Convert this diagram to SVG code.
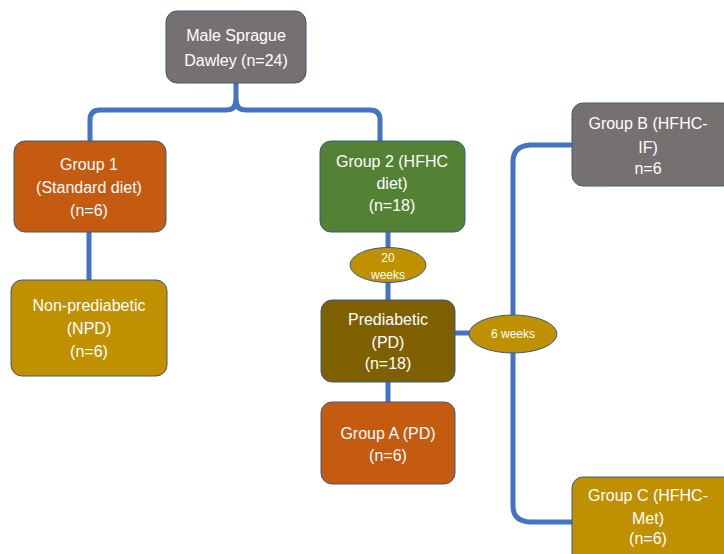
<svg xmlns="http://www.w3.org/2000/svg" width="724" height="554" viewBox="0 0 724 554">
<style>
.node{stroke:#3b5a85;stroke-width:1}
.t{fill:#ffffff;font-family:"Liberation Sans",Arial,sans-serif;font-size:16px;text-anchor:middle}
.s{fill:#ffffff;font-family:"Liberation Sans",Arial,sans-serif;font-size:12px;text-anchor:middle}
.conn{fill:none;stroke:#4472C4;stroke-width:5}
</style>
<rect width="724" height="554" fill="#ffffff"/>
<g id="connectors">
<path class="conn" d="M236 83 V100 Q236 110 226 110 H100 Q90 110 90 120 V141"/>
<path class="conn" d="M236 100 Q236 110 246 110 H370 Q380 110 380 120 V141"/>
<path class="conn" d="M89 232 V280"/>
<path class="conn" d="M388 232 V301"/>
<path class="conn" d="M388 382 V402"/>
<path class="conn" d="M455 333 H470"/>
<path class="conn" d="M572 145 H530 Q513 146 513 162 V506 Q513 521 530 522 H572"/>
</g>
<g id="n_top">
<rect class="node" x="166" y="11" width="140" height="72" rx="11" fill="#767171"/>
<text class="t" x="236" y="41">Male Sprague</text>
<text class="t" x="236" y="66">Dawley (n=24)</text>
</g>
<g id="n_group1">
<rect class="node" x="14" y="141" width="152" height="91" rx="11" fill="#C55A11"/>
<text class="t" x="89" y="170">Group 1</text>
<text class="t" x="89" y="193">(Standard diet)</text>
<text class="t" x="89" y="216">(n=6)</text>
</g>
<g id="n_npd">
<rect class="node" x="11" y="280" width="156" height="96" rx="11" fill="#BF9000"/>
<text class="t" x="89" y="311">Non-prediabetic</text>
<text class="t" x="89" y="334">(NPD)</text>
<text class="t" x="89" y="357">(n=6)</text>
</g>
<g id="n_group2">
<rect class="node" x="320" y="141" width="145" height="91" rx="11" fill="#548235"/>
<text class="t" x="392" y="167">Group 2 (HFHC</text>
<text class="t" x="392" y="189">diet)</text>
<text class="t" x="392" y="211">(n=18)</text>
</g>
<g id="n_20weeks">
<ellipse class="node" cx="388" cy="265" rx="38" ry="17.5" fill="#BF9000"/>
<text class="s" x="388" y="262">20</text>
<text class="s" x="388" y="279">weeks</text>
</g>
<g id="n_pd">
<rect class="node" x="321" y="300" width="134" height="82" rx="11" fill="#7F6000"/>
<text class="t" x="388" y="325">Prediabetic</text>
<text class="t" x="388" y="348">(PD)</text>
<text class="t" x="388" y="369">(n=18)</text>
</g>
<g id="n_groupA">
<rect class="node" x="321" y="402" width="134" height="82" rx="11" fill="#C55A11"/>
<text class="t" x="388" y="439">Group A (PD)</text>
<text class="t" x="388" y="461">(n=6)</text>
</g>
<g id="n_6weeks">
<ellipse class="node" cx="513" cy="334" rx="44" ry="19" fill="#BF9000"/>
<text class="s" x="513" y="338">6 weeks</text>
</g>
<g id="n_groupB">
<rect class="node" x="572" y="103" width="162" height="83" rx="11" fill="#767171"/>
<text class="t" x="648" y="129">Group B (HFHC-</text>
<text class="t" x="648" y="153">IF)</text>
<text class="t" x="648" y="174">n=6</text>
</g>
<g id="n_groupC">
<rect class="node" x="572" y="477" width="162" height="90" rx="11" fill="#BF9000"/>
<text class="t" x="648" y="501">Group C (HFHC-</text>
<text class="t" x="648" y="524">Met)</text>
<text class="t" x="648" y="544">(n=6)</text>
</g>
</svg>
